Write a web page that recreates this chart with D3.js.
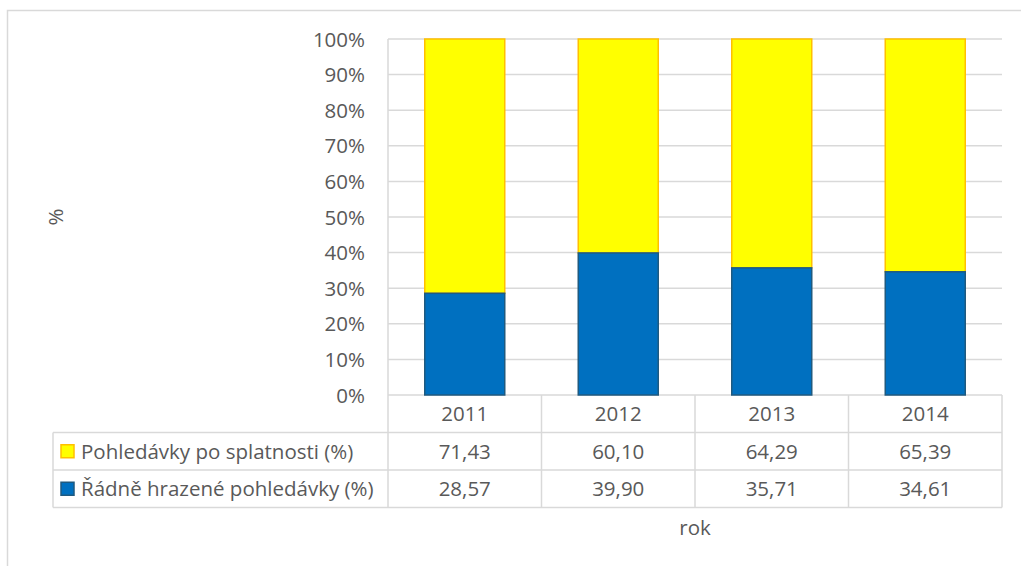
<!DOCTYPE html>
<html>
<head>
<meta charset="utf-8">
<script src="https://cdnjs.cloudflare.com/ajax/libs/d3/7.8.5/d3.min.js"></script>
<style>
  body { margin: 0; background: #fff; }
  svg text { font-family: "Open Sans", "Noto Sans", sans-serif; fill: #595959; }
</style>
</head>
<body>
<svg id="chart" width="1021" height="566"></svg>
<script>
// data
const years = ['2011', '2012', '2013', '2014']
const overdue = [71.43, 60.10, 64.29, 65.39]   // Pohledávky po splatnosti (%)
const paid = [28.57, 39.90, 35.71, 34.61]      // Řádně hrazené pohledávky (%)
const yTicks = [0, 10, 20, 30, 40, 50, 60, 70, 80, 90, 100]

const series = [
  { name: 'Pohledávky po splatnosti (%)', values: overdue, fill: '#FFFF00', stroke: '#FFC000' },
  { name: 'Řádně hrazené pohledávky (%)', values: paid, fill: '#0070C0', stroke: '#1F5A80' }
]

const svg = d3.select('#chart')
const gridCol = '#d9d9d9'
const plotL = 388, plotR = 1002, plotT = 39, plotB = 395
const rowH = 37.5
const fs = 20.5

// outer frame
svg.append('path')
  .attr('d', `M1021,10.5 H7.5 V566`)
  .attr('fill', 'none').attr('stroke', gridCol).attr('stroke-width', 1.5)

const x = d3.scaleBand().domain(years).range([plotL, plotR]).paddingInner(0).paddingOuter(0)
const y = d3.scaleLinear().domain([0, 100]).range([plotB, plotT])

// gridlines
svg.append('g').selectAll('line').data(yTicks).join('line')
  .attr('x1', plotL).attr('x2', plotR)
  .attr('y1', d => y(d)).attr('y2', d => y(d))
  .attr('stroke', gridCol).attr('stroke-width', 1.5)

// y axis tick labels
svg.append('g').selectAll('text').data(yTicks).join('text')
  .attr('x', 365).attr('y', d => y(d) + 7.5)
  .attr('text-anchor', 'end').attr('font-size', fs)
  .text(d => d + '%')

// stacked bars: blue on bottom, yellow on top
const barW = 80
years.forEach((yr, i) => {
  const cx = x(yr) + x.bandwidth() / 2
  const p = paid[i], o = overdue[i]
  svg.append('rect')
    .attr('x', cx - barW / 2).attr('width', barW)
    .attr('y', y(p + o)).attr('height', y(p) - y(p + o))
    .attr('fill', series[0].fill).attr('stroke', series[0].stroke).attr('stroke-width', 1.5)
  svg.append('rect')
    .attr('x', cx - barW / 2).attr('width', barW)
    .attr('y', y(p)).attr('height', y(0) - y(p))
    .attr('fill', series[1].fill).attr('stroke', series[1].stroke).attr('stroke-width', 1.5)
})

// data table
const tLeft = 53
const tbl = svg.append('g').attr('stroke', gridCol).attr('stroke-width', 1.5)
for (let r = 1; r <= 3; r++) {
  tbl.append('line').attr('x1', tLeft).attr('x2', plotR).attr('y1', plotB + rowH * r).attr('y2', plotB + rowH * r)
}
tbl.append('line').attr('x1', tLeft).attr('x2', tLeft).attr('y1', plotB + rowH).attr('y2', plotB + rowH * 3)
years.concat(['end']).forEach((yr, i) => {
  const xx = i < years.length ? x(yr) : plotR
  tbl.append('line').attr('x1', xx).attr('x2', xx).attr('y1', i === 0 ? plotT : plotB).attr('y2', plotB + rowH * 3)
})

// header years
svg.append('g').selectAll('text').data(years).join('text')
  .attr('x', d => x(d) + x.bandwidth() / 2).attr('y', plotB + rowH / 2 + 7.5)
  .attr('text-anchor', 'middle').attr('font-size', fs)
  .text(d => d)

// rows
series.forEach((s, r) => {
  const cy = plotB + rowH * (r + 1) + rowH / 2
  svg.append('rect')
    .attr('x', 61).attr('y', cy - 6.5).attr('width', 13).attr('height', 13)
    .attr('fill', s.fill).attr('stroke', s.stroke).attr('stroke-width', 1.5)
  svg.append('text')
    .attr('x', 81).attr('y', cy + 7.5).attr('font-size', fs)
    .text(s.name)
  svg.append('g').selectAll('text').data(s.values).join('text')
    .attr('x', (d, i) => x(years[i]) + x.bandwidth() / 2).attr('y', cy + 7.5)
    .attr('text-anchor', 'middle').attr('font-size', fs)
    .text(d => d.toFixed(2).replace('.', ','))
})

// axis titles
svg.append('text')
  .attr('x', 695).attr('y', 535).attr('text-anchor', 'middle').attr('font-size', fs)
  .text('rok')
svg.append('text')
  .attr('transform', 'translate(63,217) rotate(-90)')
  .attr('text-anchor', 'middle').attr('font-size', fs)
  .text('%')
</script>
</body>
</html>
